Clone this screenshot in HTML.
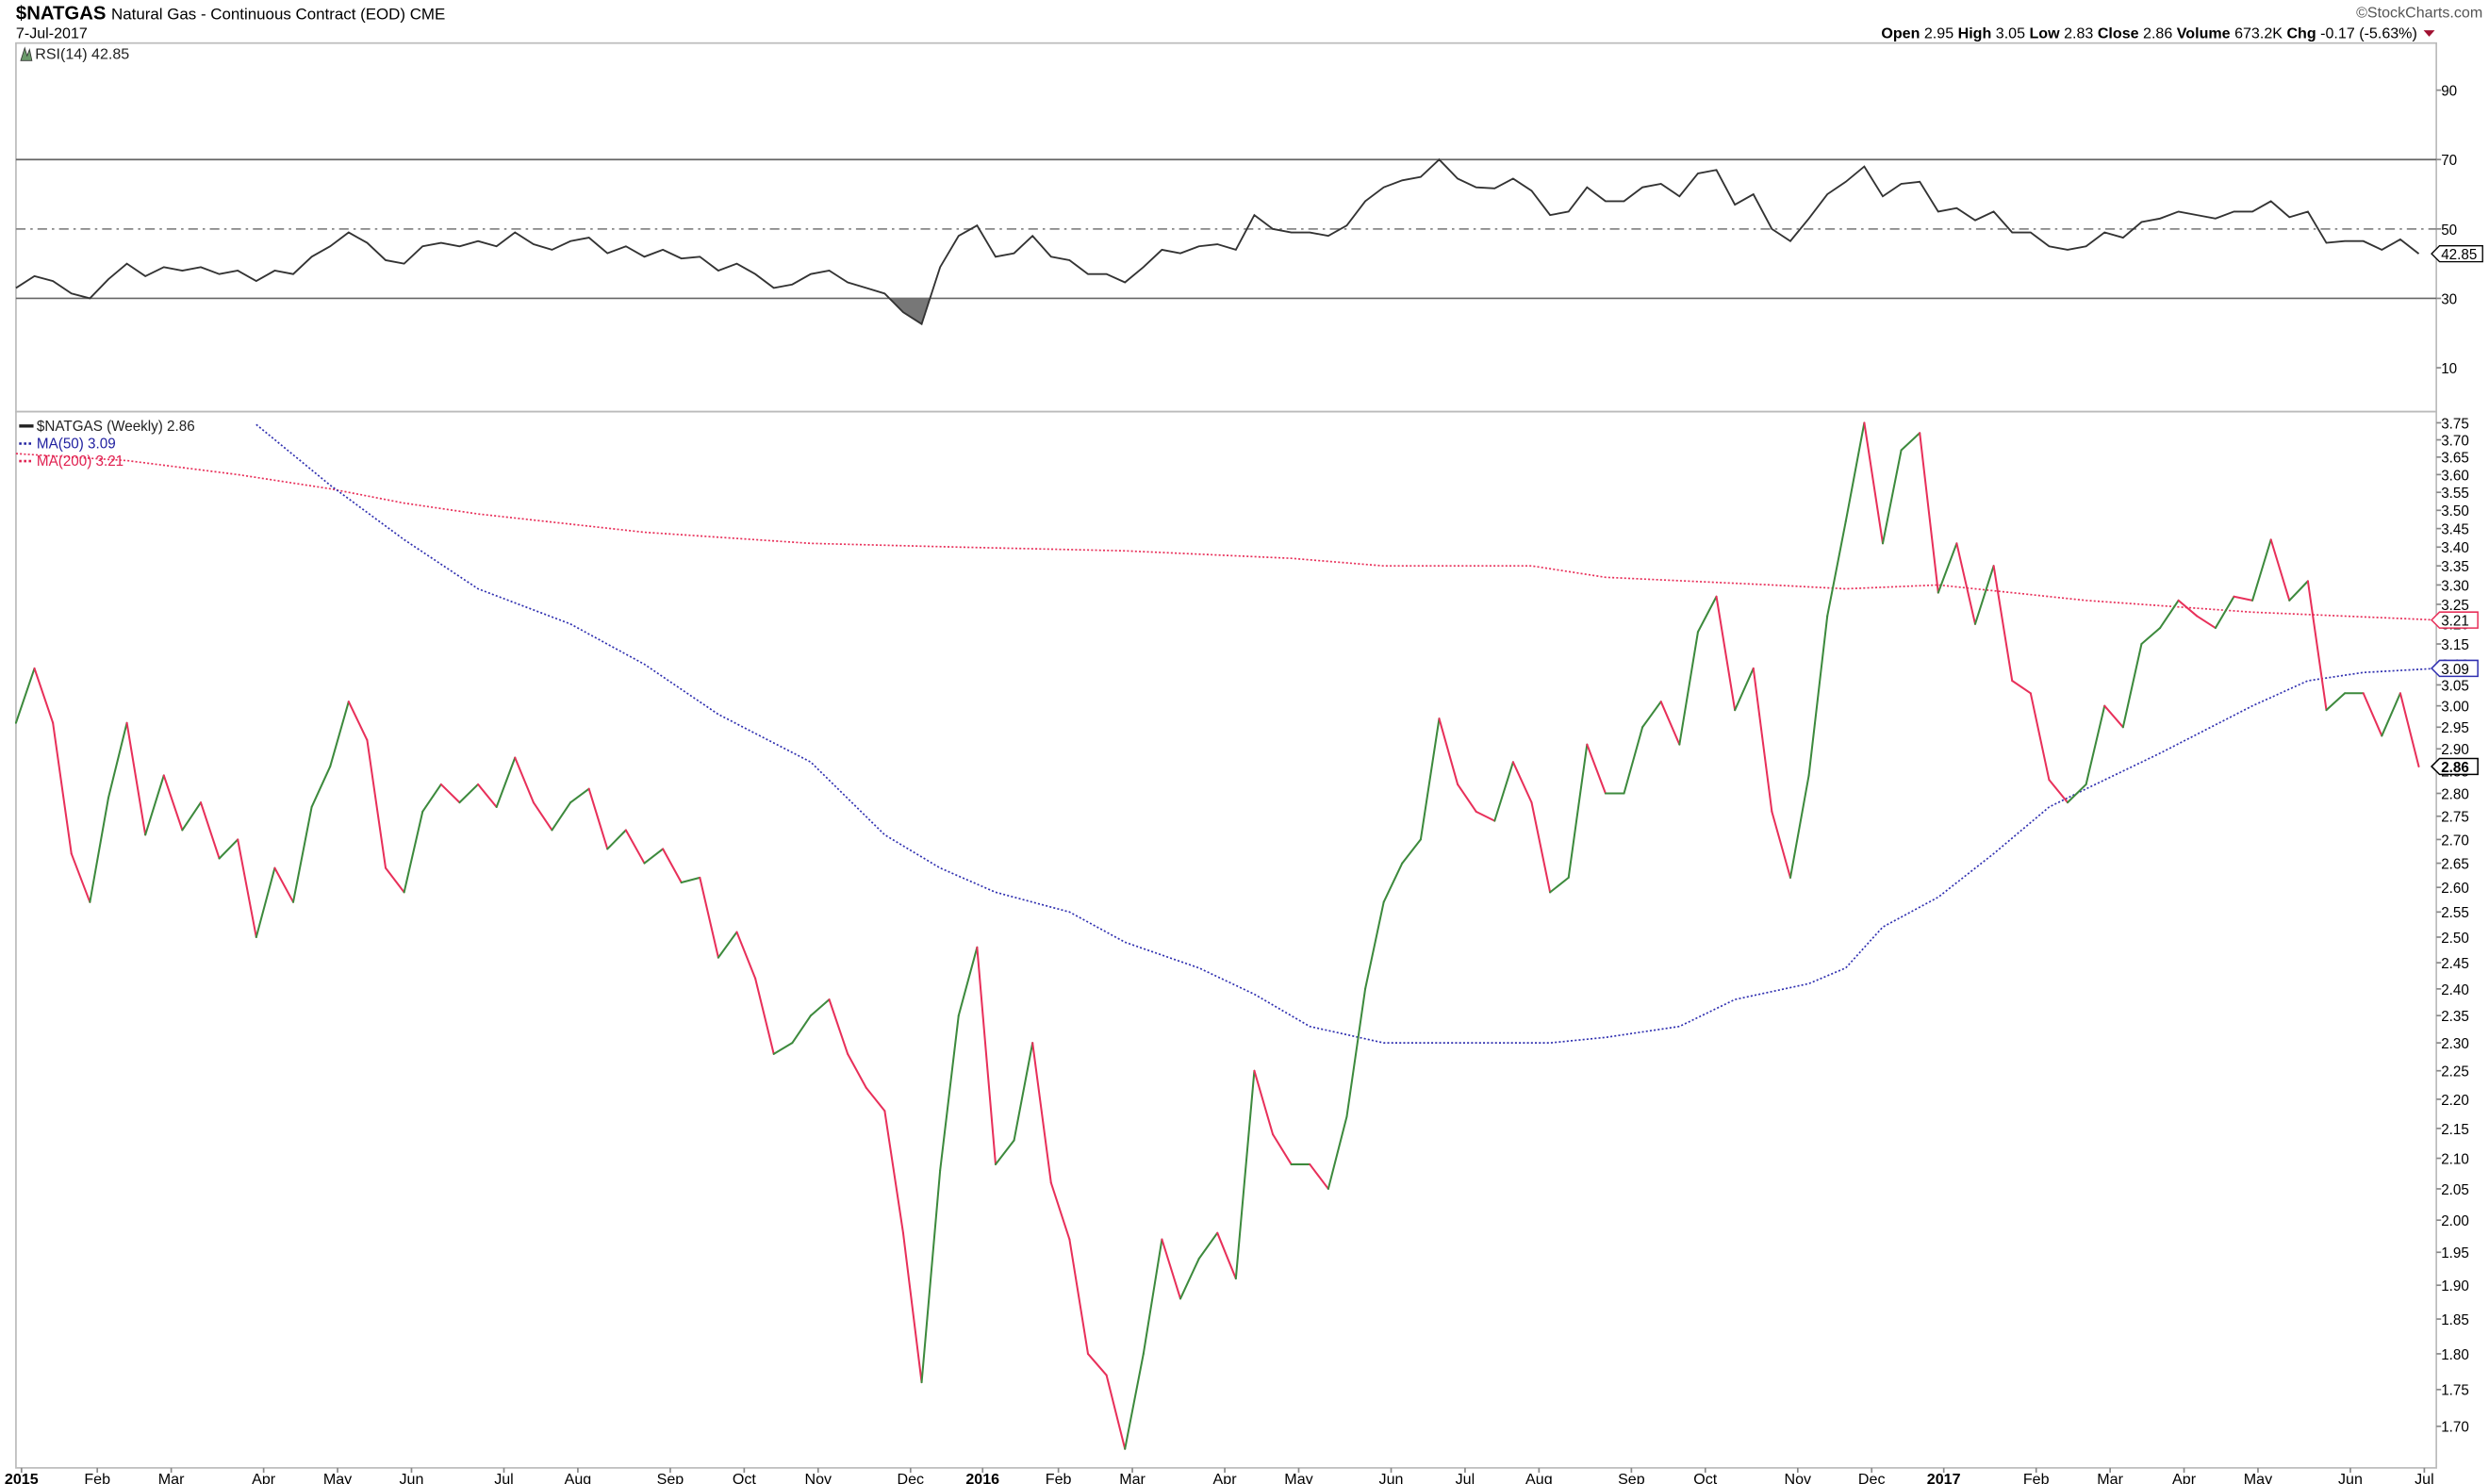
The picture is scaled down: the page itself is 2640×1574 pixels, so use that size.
<!DOCTYPE html>
<html><head><meta charset="utf-8">
<style>
html,body{margin:0;padding:0;background:#fff;}
svg{display:block;font-family:"Liberation Sans",Arial,sans-serif;}
</style></head>
<body>
<svg id="chart" width="2640" height="1574" viewBox="0 0 1560 930.1" xmlns="http://www.w3.org/2000/svg">
<rect width="1560" height="931" fill="#fff"/>
<g>
<text x="10" y="12" font-size="12" font-weight="bold">$NATGAS <tspan font-weight="normal" font-size="10">Natural Gas - Continuous Contract (EOD) CME</tspan></text>
<text x="10" y="24" font-size="9.5">7-Jul-2017</text>
<text x="1556" y="11" font-size="9.5" text-anchor="end" fill="#555">©StockCharts.com</text>
<text x="1515" y="24" font-size="9.5" text-anchor="end"><tspan font-weight="bold">Open</tspan> 2.95 <tspan font-weight="bold">High</tspan> 3.05 <tspan font-weight="bold">Low</tspan> 2.83 <tspan font-weight="bold">Close</tspan> 2.86 <tspan font-weight="bold">Volume</tspan> 673.2K <tspan font-weight="bold">Chg</tspan> -0.17 (-5.63%)</text>
<path d="M1519,19 L1526,19 L1522.5,23 Z" fill="#a01030"/>
</g>
<g id="rsi"></g>
<g id="price"></g>
<g id="xaxis"></g>
</svg>
<script>
const priceVals=[2.96,3.09,2.96,2.67,2.57,2.79,2.96,2.71,2.84,2.72,2.78,2.66,2.70,2.50,2.64,2.57,2.77,2.86,3.01,2.92,2.64,2.59,2.76,2.82,2.78,2.82,2.77,2.88,2.78,2.72,2.78,2.81,2.68,2.72,2.65,2.68,2.61,2.62,2.46,2.51,2.42,2.28,2.30,2.35,2.38,2.28,2.22,2.18,1.98,1.76,2.08,2.35,2.48,2.09,2.13,2.30,2.06,1.97,1.80,1.77,1.67,1.80,1.97,1.88,1.94,1.98,1.91,2.25,2.14,2.09,2.09,2.05,2.17,2.40,2.57,2.65,2.70,2.97,2.82,2.76,2.74,2.87,2.78,2.59,2.62,2.91,2.80,2.80,2.95,3.01,2.91,3.18,3.27,2.99,3.09,2.76,2.62,2.84,3.22,3.47,3.75,3.41,3.67,3.72,3.28,3.41,3.20,3.35,3.06,3.03,2.83,2.78,2.82,3.00,2.95,3.15,3.19,3.26,3.22,3.19,3.27,3.26,3.42,3.26,3.31,2.99,3.03,3.03,2.93,3.03,2.86];
const rsiVals=[33,36.4,35,31.4,30,35.5,40,36.4,39,38,39,37,38,35,38,37,42,45,49,46,41,40,45,46,45,46.5,45,49,45.6,44,46.5,47.5,43,45,42,44,41.5,42,38,40,37,33,34,37,38,34.6,33,31.4,26,22.6,39,48,51,42,43,48,42,41,37,37,34.6,39,44,43,45,45.6,44,54,50,49,49,48,51,58,62,64,65,70,64.5,62,61.7,64.5,61,54,55,62,58,58,62,63,59.4,66,67,57,60,50,46.5,53,60,63.6,68,59.4,63,63.6,55,56,52.5,55,49,49,45,44,45,49,47.5,52,53,55,54,53,55,55,58,53.4,55,46,46.5,46.5,44,47,42.85];
const ma50Idx=[13,17,21,25,30,34,38,43,47,50,53,57,60,64,67,70,74,77,83,86,90,93,97,99,101,104,107,110,112,116,121,124,127,131];
const ma50Vals=[3.745,3.57,3.42,3.29,3.20,3.10,2.98,2.87,2.71,2.64,2.59,2.55,2.49,2.44,2.39,2.33,2.30,2.30,2.30,2.31,2.33,2.38,2.41,2.44,2.52,2.58,2.67,2.77,2.81,2.89,3.00,3.06,3.08,3.09];
const ma200Idx=[0,6,12,17,21,25,34,43,51,60,69,74,82,86,95,99,104,108,112,121,131];
const ma200Vals=[3.66,3.64,3.60,3.56,3.52,3.49,3.44,3.41,3.40,3.39,3.37,3.35,3.35,3.32,3.30,3.29,3.30,3.28,3.26,3.23,3.21];
const priceTicks=[1.70,1.75,1.80,1.85,1.90,1.95,2.00,2.05,2.10,2.15,2.20,2.25,2.30,2.35,2.40,2.45,2.50,2.55,2.60,2.65,2.70,2.75,2.80,2.85,2.90,2.95,3.00,3.05,3.10,3.15,3.20,3.25,3.30,3.35,3.40,3.45,3.50,3.55,3.60,3.65,3.70,3.75];
const rsiTicks=[90,70,50,30,10];
const monthLabels=["2015","Feb","Mar","Apr","May","Jun","Jul","Aug","Sep","Oct","Nov","Dec","2016","Feb","Mar","Apr","May","Jun","Jul","Aug","Sep","Oct","Nov","Dec","2017","Feb","Mar","Apr","May","Jun","Jul"];
const monthWeeks=[0.3,4.4,8.4,13.4,17.4,21.4,26.4,30.4,35.4,39.4,43.4,48.4,52.3,56.4,60.4,65.4,69.4,74.4,78.4,82.4,87.4,91.4,96.4,100.4,104.3,109.3,113.3,117.3,121.3,126.3,130.3];

const NS="http://www.w3.org/2000/svg";
const L=10,R=1527,RT=27,RB=258,PT=258,PB=920;
const n=priceVals.length;
const xs=i=>10+i*(1516-10)/(n-1);
const yP=v=>265+795*Math.log(3.75/v);
const yR=v=>100+(70-v)*2.175;
function mk(parent,tag,attrs){const e=document.createElementNS(NS,tag);for(const k in attrs)e.setAttribute(k,attrs[k]);parent.appendChild(e);return e;}
const rsiG=document.getElementById('rsi'),pG=document.getElementById('price'),xG=document.getElementById('xaxis');

let e=mk(rsiG,'rect',{x:L,y:RT,width:R-L,height:RB-RT,fill:'none',stroke:'#bbb','stroke-width':1});

[70,30].forEach(v=>{const l=mk(rsiG,'line',{x1:L,x2:R,y1:yR(v),y2:yR(v),stroke:'#666','stroke-width':1});
});
e=mk(rsiG,'line',{x1:L,x2:R,y1:yR(50),y2:yR(50),stroke:'#888','stroke-width':1,'stroke-dasharray':'6,3,1.5,3'});

{let d='';const base=yR(30);
for(let i=1;i<n;i++){const a=rsiVals[i-1],b=rsiVals[i];if(a<30||b<30){
 const x0=xs(i-1),x1=xs(i);const ta=a<30?0:(30-a)/(b-a),tb=b<30?1:(30-a)/(b-a);
 const xa=x0+(x1-x0)*ta,xb=x0+(x1-x0)*tb,va=a+(b-a)*ta,vb=a+(b-a)*tb;
 d+=`M${xa},${base}L${xa},${yR(va)}L${xb},${yR(vb)}L${xb},${base}Z`;}}
e=mk(rsiG,'path',{d:d,fill:'#777'});}
e=mk(rsiG,'polyline',{points:rsiVals.map((v,i)=>xs(i)+','+yR(v)).join(' '),fill:'none',stroke:'#333','stroke-width':1.1});

rsiTicks.forEach(v=>{const t=mk(rsiG,'text',{x:1530,y:yR(v)+3.5,'font-size':9});t.textContent=v;

const tk=mk(rsiG,'line',{x1:R,x2:R+3,y1:yR(v),y2:yR(v),stroke:'#888'});});
e=mk(rsiG,'text',{x:22,y:37,'font-size':9.5,fill:'#222'});e.textContent='RSI(14) 42.85';

e=mk(rsiG,'path',{d:'M13,38 L15.5,30 L17,35 L18.5,31 L20,38 Z',fill:'#6a9a6a',stroke:'#333','stroke-width':0.5});

{const y=yR(42.85);e=mk(rsiG,'path',{d:`M1524,${y} L1529,${y-5} L1556,${y-5} L1556,${y+5} L1529,${y+5} Z`,fill:'#fff',stroke:'#000','stroke-width':0.8});

const t=mk(rsiG,'text',{x:1530,y:y+3.5,'font-size':9});t.textContent='42.85';}

e=mk(pG,'rect',{x:L,y:PT,width:R-L,height:PB-PT,fill:'none',stroke:'#bbb','stroke-width':1});

priceTicks.forEach(v=>{const y=yP(v);const t=mk(pG,'text',{x:1530,y:y+3.5,'font-size':9});t.textContent=v.toFixed(2);

const tk=mk(pG,'line',{x1:R,x2:R+3,y1:y,y2:y,stroke:'#888'});});
e=mk(pG,'polyline',{points:ma200Idx.map((w,i)=>xs(w)+','+yP(ma200Vals[i])).join(' '),fill:'none',stroke:'#e8305a','stroke-width':1,'stroke-dasharray':'1.2,1.3'});

e=mk(pG,'polyline',{points:ma50Idx.map((w,i)=>xs(w)+','+yP(ma50Vals[i])).join(' '),fill:'none',stroke:'#3030b0','stroke-width':1,'stroke-dasharray':'1.2,1.3'});

for(let i=1;i<n;i++){const up=priceVals[i]>=priceVals[i-1];
 const s=mk(pG,'line',{x1:xs(i-1),y1:yP(priceVals[i-1]),x2:xs(i),y2:yP(priceVals[i]),stroke:up?'#3d8a3d':'#e8305a','stroke-width':1.2,'stroke-linecap':'round'});
 }
function tag(v,col,bold,name){const y=yP(v);const p=mk(pG,'path',{d:`M1524,${y} L1529,${y-5} L1553,${y-5} L1553,${y+5} L1529,${y+5} Z`,fill:'#fff',stroke:col,'stroke-width':0.9});

const t=mk(pG,'text',{x:1530,y:y+3.5,'font-size':9,'font-weight':bold?'bold':'normal'});t.textContent=v.toFixed(2);
}
tag(3.21,'#e8305a',false,'ma200-value');tag(3.09,'#3030b0',false,'ma50-value');tag(2.86,'#000',true,'price-value');
const leg=[['$NATGAS (Weekly) 2.86','#222','solid'],['MA(50) 3.09','#2020a0','dot'],['MA(200) 3.21','#e02050','dot']];
leg.forEach((l,i)=>{const y=270+i*11;const m=mk(pG,'line',{x1:12,x2:21,y1:y-3,y2:y-3,stroke:l[1],'stroke-width':l[2]=='solid'?2:1.5,'stroke-dasharray':l[2]=='solid'?'':'1.5,1.5'});

const t=mk(pG,'text',{x:23,y:y,'font-size':9,fill:l[1]});t.textContent=l[0];});

monthLabels.forEach((m,i)=>{const x=xs(monthWeeks[i]);const bold=/^\d{4}$/.test(m);
const t=mk(xG,'text',{x:x,y:930,'font-size':9.5,'text-anchor':'middle','font-weight':bold?'bold':'normal'});t.textContent=m;

const tk=mk(xG,'line',{x1:x,x2:x,y1:PB,y2:PB+3,stroke:'#888'});});
</script>
</body></html>
